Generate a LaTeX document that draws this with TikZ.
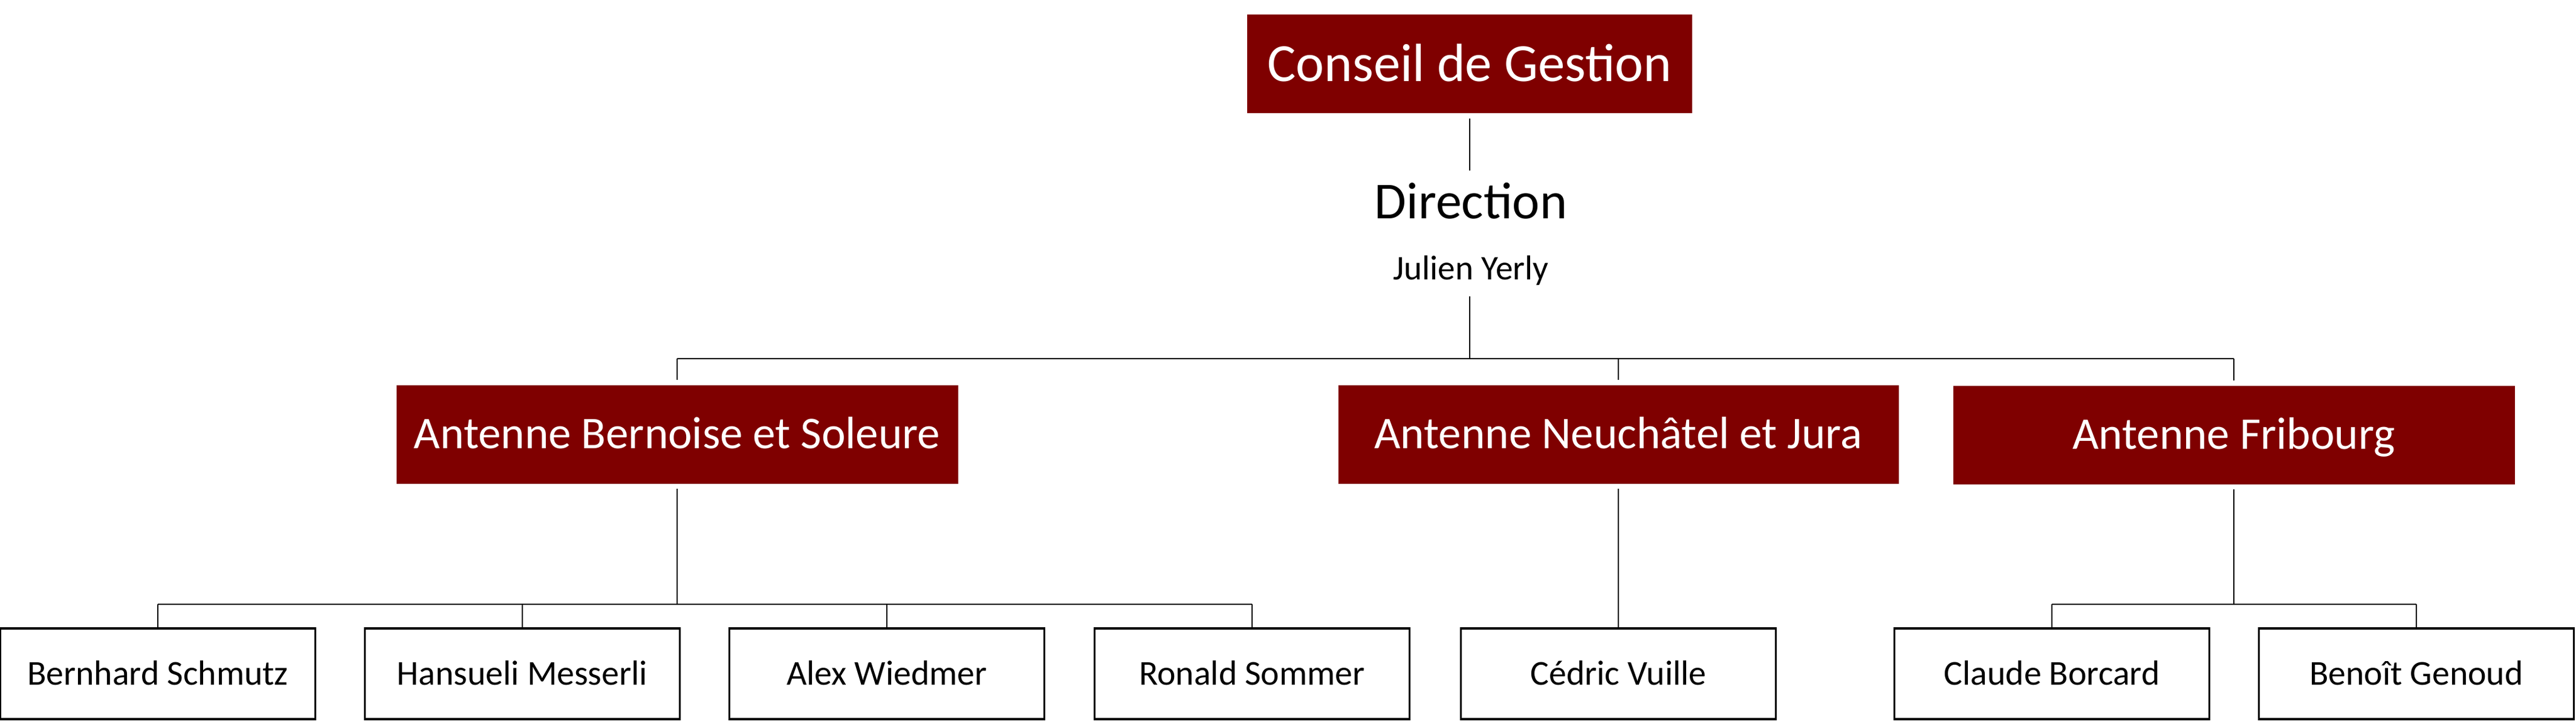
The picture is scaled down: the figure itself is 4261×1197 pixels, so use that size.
\documentclass[tikz,border=0pt]{standalone}
\usepackage{fontspec}
\setmainfont{Carlito}
\definecolor{boxred}{RGB}{127,0,0}
\begin{document}
\begin{tikzpicture}[x=0.36pt,y=-0.36pt,
  redbox/.style={fill=boxred,text=white,inner sep=0pt,minimum height=163*0.36pt,
    text height=17pt,text depth=0pt,font=\fontsize{27}{30}\selectfont},
  whitebox/.style={draw=black,line width=1.2pt,fill=white,inner sep=0pt,
    minimum width=521*0.36pt,minimum height=150*0.36pt,
    text height=13.1pt,text depth=0pt,font=\fontsize{20.8}{24}\selectfont},
  conn/.style={draw=black,line width=1pt},
  gap/.style={shorten <=2.9pt},
  gapend/.style={shorten >=2.9pt}]
\useasboundingbox (0,0) rectangle (4261,1197);
% top
\node[redbox,minimum width=736*0.36pt,text height=20.2pt,font=\fontsize{32}{36}\selectfont] (cons) at (2431,106) {Conseil de Gestion};
\node[anchor=base,inner sep=0pt,font=\fontsize{30.9}{34}\selectfont] (dir) at (2433,361) {Direction};
\node[anchor=base,inner sep=0pt,font=\fontsize{20.6}{24}\selectfont] (jul) at (2433,462) {Julien Yerly};
% antennes
\node[redbox,minimum width=929*0.36pt] (bern) at (1120,718) {Antenne Bernoise et Soleure};
\node[redbox,minimum width=927*0.36pt] (neu) at (2677,718) {Antenne Neuchâtel et Jura};
\node[redbox,minimum width=929*0.36pt] (fri) at (3695,719) {Antenne Fribourg};
% people
\node[whitebox] (bs) at (261,1114) {Bernhard Schmutz};
\node[whitebox] (hm) at (864,1114) {Hansueli Messerli};
\node[whitebox] (aw) at (1467,1114) {Alex Wiedmer};
\node[whitebox] (rs) at (2071,1114) {Ronald Sommer};
\node[whitebox] (cv) at (2677,1114) {Cédric Vuille};
\node[whitebox] (cb) at (3394,1114) {Claude Borcard};
\node[whitebox] (bg) at (3997,1114) {Benoît Genoud};
% junction coordinates
\coordinate (dtop) at (2431,282);
\coordinate (dbot) at (2431,490);
\coordinate (mbus) at (2431,593);
\coordinate (bbus) at (1120,999);
\coordinate (fbus) at (3695,999);
% connectors
\draw[conn,gap] (cons.south) -- (dtop);
\draw[conn] (dbot) -- (mbus);
\draw[conn] (bern.north |- mbus) -- (fri.north |- mbus);
\draw[conn,gapend] (bern.north |- mbus) -- (bern.north);
\draw[conn,gapend] (neu.north |- mbus) -- (neu.north);
\draw[conn,gapend] (fri.north |- mbus) -- (fri.north);
% Bernoise branch
\draw[conn,gap] (bern.south) -- (bbus);
\draw[conn] (bs.north |- bbus) -- (rs.north |- bbus);
\foreach \c in {bs,hm,aw,rs} \draw[conn] (\c.north |- bbus) -- (\c.north);
% Neuchatel branch
\draw[conn,gap] (neu.south) -- (cv.north);
% Fribourg branch
\draw[conn,gap] (fri.south) -- (fbus);
\draw[conn] (cb.north |- fbus) -- (bg.north |- fbus);
\foreach \c in {cb,bg} \draw[conn] (\c.north |- fbus) -- (\c.north);
\end{tikzpicture}
\end{document}
